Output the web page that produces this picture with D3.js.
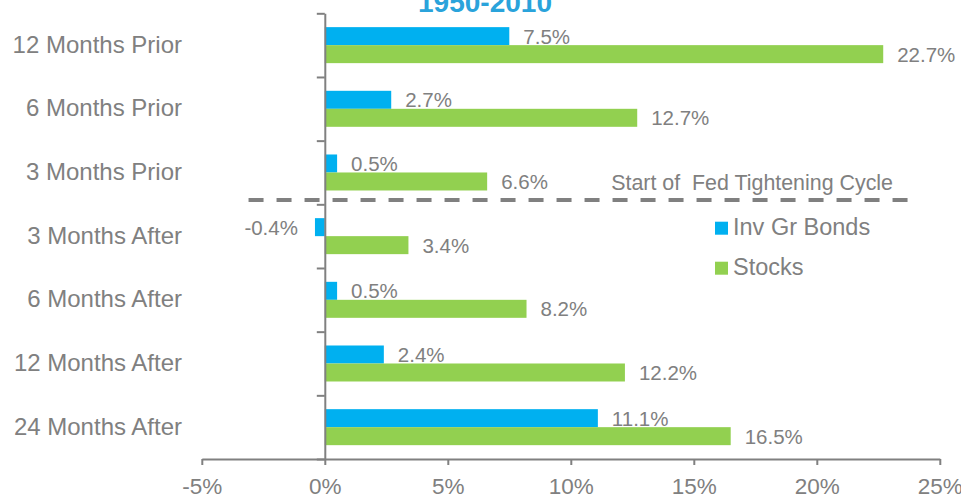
<!DOCTYPE html>
<html>
<head>
<meta charset="utf-8">
<script src="https://cdn.jsdelivr.net/npm/d3@7"></script>
<style>
  html, body { margin: 0; padding: 0; background: #ffffff; }
  svg { display: block; font-family: "Liberation Sans", Arial, sans-serif; }
</style>
</head>
<body>
<svg id="chart" width="961" height="497"></svg>
<script>
const title = "1950-2010";
const categories = ["12 Months Prior", "6 Months Prior", "3 Months Prior", "3 Months After", "6 Months After", "12 Months After", "24 Months After"];
const seriesNames = ["Inv Gr Bonds", "Stocks"];
const bonds = [7.5, 2.7, 0.5, -0.4, 0.5, 2.4, 11.1];
const stocks = [22.7, 12.7, 6.6, 3.4, 8.2, 12.2, 16.5];
const xTicks = [-5, 0, 5, 10, 15, 20, 25];
const annotation = "Start of\u00a0\u00a0Fed Tightening Cycle";

const colors = ["#00B0F0", "#92D050"];
const gray = "#808080";

const svg = d3.select("#chart");
const x = d3.scaleLinear().domain([-5, 25]).range([201.8, 939.8]);
const y = d3.scaleBand().domain(categories).range([13.3, 459]);
const bw = y.bandwidth();
const barH = 18;
const y1 = d3.scaleBand().domain(seriesNames).range([(bw - 2 * barH) / 2, (bw + 2 * barH) / 2]);

const rows = categories.map((c, i) => ({ cat: c, vals: [bonds[i], stocks[i]] }));

// Title
svg.append("text")
  .attr("x", 485).attr("y", 12)
  .attr("text-anchor", "middle")
  .attr("font-size", 28).attr("font-weight", "bold")
  .attr("fill", "#2AA3DB")
  .text(title);

// Bars
const g = svg.append("g");
rows.forEach(r => {
  r.vals.forEach((v, j) => {
    const yy = y(r.cat) + y1(seriesNames[j]);
    g.append("rect")
      .attr("x", x(Math.min(0, v)))
      .attr("y", yy)
      .attr("width", Math.abs(x(v) - x(0)))
      .attr("height", y1.bandwidth())
      .attr("fill", colors[j]);
    g.append("text")
      .attr("x", v >= 0 ? x(v) + 14 : x(v) - 17)
      .attr("y", yy + y1.bandwidth() / 2)
      .attr("dy", "0.36em")
      .attr("text-anchor", v >= 0 ? "start" : "end")
      .attr("font-size", 20.5)
      .attr("fill", gray)
      .text(v.toFixed(1) + "%");
  });
});

// Category labels
svg.append("g").selectAll("text").data(categories).join("text")
  .attr("x", 182)
  .attr("y", d => y(d) + bw / 2 - 1)
  .attr("dy", "0.36em")
  .attr("text-anchor", "end")
  .attr("font-size", 24)
  .attr("fill", gray)
  .text(d => d);

// Y axis with ticks at category boundaries
const yb = d3.scaleLinear().domain([0, categories.length]).range([13.3, 459]);
const yAxis = svg.append("g").attr("transform", `translate(${x(0)},0)`)
  .call(d3.axisLeft(yb).tickValues(d3.range(0, categories.length + 1)).tickSize(8).tickSizeOuter(0).tickFormat(""));
yAxis.selectAll("path, line").attr("stroke", gray).attr("stroke-width", 2);

// X axis
const xAxis = svg.append("g").attr("transform", `translate(0,459)`)
  .call(d3.axisBottom(x).tickValues(xTicks).tickSize(6).tickSizeOuter(0).tickPadding(13).tickFormat(d => d + "%"));
xAxis.selectAll("path, line").attr("stroke", gray).attr("stroke-width", 2);
xAxis.selectAll("text").attr("font-size", 22.5).attr("fill", gray)
  .attr("font-family", "'Liberation Sans', Arial, sans-serif");

// Dashed separator
const sepY = y(categories[3]) - 4.4;
svg.append("line")
  .attr("x1", x(-3.1)).attr("x2", x(23.7))
  .attr("y1", sepY).attr("y2", sepY)
  .attr("stroke", gray).attr("stroke-width", 4)
  .attr("stroke-dasharray", "15,13");
svg.append("text")
  .attr("x", 893).attr("y", sepY - 10)
  .attr("text-anchor", "end")
  .attr("font-size", 21.4)
  .attr("fill", gray)
  .text(annotation);

// Legend
const leg = svg.append("g");
seriesNames.forEach((n, i) => {
  const ly = 221.7 + i * 40;
  leg.append("rect").attr("x", 715).attr("y", ly).attr("width", 13).attr("height", 13).attr("fill", colors[i]);
  leg.append("text").attr("x", 733).attr("y", ly + 13)
    .attr("font-size", 23.5).attr("fill", gray).text(n);
});
</script>
</body>
</html>
